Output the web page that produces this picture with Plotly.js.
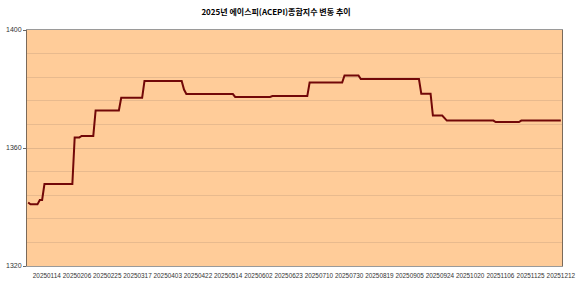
<!DOCTYPE html>
<html>
<head>
<meta charset="utf-8">
<script src="https://cdn.plot.ly/plotly-3.0.1.min.js"></script>
<style>html,body{margin:0;padding:0;background:#fff;}#chart{width:580px;height:294px;}</style>
</head>
<body>
<div id="chart"></div>
<script>
// Trading-day position (0 = 2025-01-02) of each corner of the stepped line, and the index value there
var dayIndex = [0,1,4,5,6,7,19,20,22,23,28,29,39,40,49,50,66,67,68,88,89,104,105,120,121,135,136,142,143,168,169,173,174,178,180,200,201,211,212,229];
var indexValue = [1341.5,1340.9,1340.9,1342.4,1342.4,1347.8,1347.8,1363.6,1363.6,1364.1,1364.1,1372.7,1372.7,1377.0,1377.0,1382.7,1382.7,1379.8,1378.3,1378.3,1377.3,1377.3,1377.6,1377.6,1382.2,1382.2,1384.6,1384.6,1383.4,1383.4,1378.4,1378.4,1371.0,1371.0,1369.3,1369.3,1368.8,1368.8,1369.3,1369.3];
var tickLabels = ["20250114","20250206","20250225","20250317","20250403","20250422","20250514","20250602","20250623","20250710","20250730","20250819","20250905","20250924","20251020","20251106","20251125","20251212"];
var firstLabelDay = 8, labelEvery = 13, dayCount = 230;
var yTicks = [1320, 1360, 1400];

var tickPos = tickLabels.map(function(_, k){ return firstLabelDay + k * labelEvery; });

var trace = {
  x: dayIndex, y: indexValue, type: 'scatter', mode: 'lines',
  line: {color: '#720808', width: 2}, hoverinfo: 'skip'
};

var layout = {
  width: 580, height: 294,
  margin: {l: 27, r: 18, t: 30, b: 28},
  paper_bgcolor: '#ffffff', plot_bgcolor: '#ffcc99',
  showlegend: false,
  title: {text: '<b>2025년 에이스피(ACEPI)종합지수 변동 추이</b>',
          font: {family: '"Noto Sans CJK KR", sans-serif', size: 8, color: '#000'},
          x: 276/580, xref: 'container', xanchor: 'center', y: 1 - 12/294, yref: 'container', yanchor: 'middle'},
  xaxis: {
    range: [-0.5, dayCount - 0.5], tickmode: 'array', tickvals: tickPos, ticktext: tickLabels,
    tickangle: 0, ticks: 'outside', ticklen: 3, tickcolor: 'rgba(0,0,0,0)',
    showgrid: false, zeroline: false, showline: true, linecolor: '#9a9a9a', linewidth: 1, mirror: true,
    tickfont: {family: '"Liberation Sans", Arial, sans-serif', size: 6.4, color: '#333'}
  },
  yaxis: {
    range: [1320, 1400], tickmode: 'array', tickvals: yTicks,
    ticks: 'outside', ticklen: 3, tickcolor: '#666', tickwidth: 1,
    showgrid: true, gridcolor: '#e3b68b', gridwidth: 1,
    minor: {dtick: 8, tick0: 1320, showgrid: true, gridcolor: '#e8ba8e', gridwidth: 1, ticks: ''},
    zeroline: false, showline: true, linecolor: '#7a6a5a', linewidth: 1, mirror: true,
    tickfont: {family: '"Liberation Sans", Arial, sans-serif', size: 7, color: '#333'}
  }
};

Plotly.newPlot('chart', [trace], layout, {staticPlot: true, displayModeBar: false});
</script>
</body>
</html>
